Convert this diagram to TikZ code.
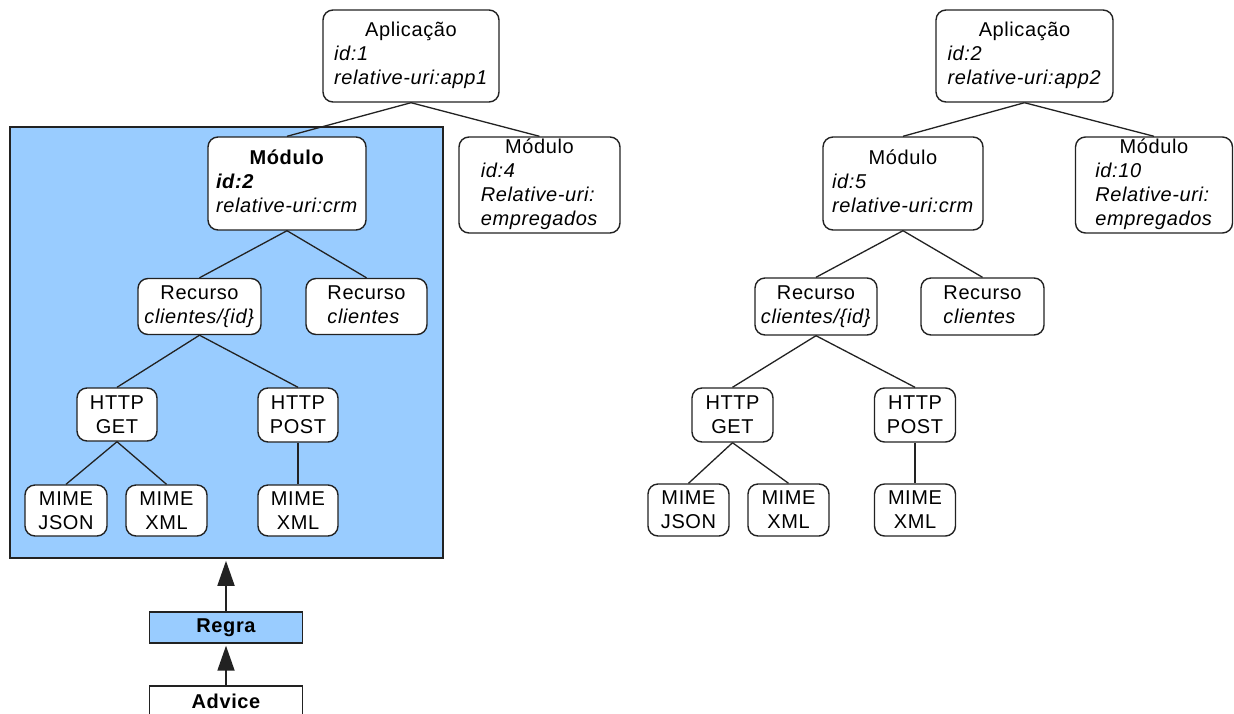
\documentclass[tikz,border=0pt]{standalone}
\usepackage{fontspec}
\setmainfont{Liberation Sans}[LetterSpace=3]
\usetikzlibrary{arrows.meta}
\definecolor{skyfill}{HTML}{99CCFF}
\definecolor{edgegray}{HTML}{222222}
\newcommand{\linesblock}[1]{\begin{tabular}{@{}l@{}}#1\end{tabular}}
\newcommand{\ctrline}[1]{\multicolumn{1}{@{}c@{}}{#1}}
\tikzset{
  tnode/.style={draw=edgegray, line width=1.4pt, rounded corners=10pt, fill=white,
    inner sep=0pt, font=\fontsize{20}{24}\selectfont, align=center},
  conn/.style={draw=edgegray, line width=1.3pt},
  upArrow/.style={draw=edgegray, line width=1.8pt, shorten >=2pt,
    -{Triangle[length=25pt,width=17pt]}},
  plainbox/.style={draw=edgegray, line width=1.4pt, inner sep=0pt,
    font=\fontsize{20}{24}\selectfont\bfseries}
}
\begin{document}
\begin{tikzpicture}[x=1pt,y=-1pt]
\useasboundingbox (0,0) rectangle (1234,713);
\clip (0,0) rectangle (1234,713);
\fill[white] (0,0) rectangle (1234,713);

% blue region
\node[draw=edgegray, line width=1.6pt, fill=skyfill, inner sep=0pt,
  minimum width=433pt, minimum height=431pt] (region) at (226.5,342.5) {};

% ---------- left tree ----------
\node[tnode, minimum width=176pt, minimum height=92pt] (app1) at (411,56)
  {\linesblock{\ctrline{Aplicação}\\ \textit{id:1}\\ \textit{relative-uri:app1}}};
\node[tnode, minimum width=158pt, minimum height=93pt] (m2) at (287,183.5)
  {\linesblock{\ctrline{\textbf{Módulo}}\\ \textbf{\textit{id:2}}\\ \textit{relative-uri:crm}}};
\node[tnode, minimum width=161pt, minimum height=96pt] (m4) at (539.5,185)
  {\linesblock{\ctrline{Módulo}\\ \textit{id:4}\\ \textit{Relative-uri:}\\ \textit{empregados}}};
\node[tnode, minimum width=123pt, minimum height=56pt] (r1) at (199.5,306.5)
  {\linesblock{\ctrline{Recurso}\\ \textit{clientes/\{id\}}}};
\node[tnode, minimum width=121pt, minimum height=56pt] (r2) at (366.5,306.5)
  {\linesblock{\ctrline{Recurso}\\ \textit{clientes}}};
\node[tnode, minimum width=80pt, minimum height=53pt] (g1) at (117,414.5) {HTTP\\GET};
\node[tnode, minimum width=80pt, minimum height=54pt] (p1) at (298,415) {HTTP\\POST};
\node[tnode, minimum width=82pt, minimum height=51pt] (j1) at (66,510.5) {MIME\\JSON};
\node[tnode, minimum width=81pt, minimum height=51pt] (x1) at (166.5,510.5) {MIME\\XML};
\node[tnode, minimum width=80pt, minimum height=51pt] (x2) at (298,510.5) {MIME\\XML};

\draw[conn] (app1.south) -- (m2.north);
\draw[conn] (app1.south) -- (m4.north);
\draw[conn] (m2.south) -- (r1.north);
\draw[conn] (m2.south) -- (r2.north);
\draw[conn] (r1.south) -- (g1.north);
\draw[conn] (r1.south) -- (p1.north);
\draw[conn] (g1.south) -- (j1.north);
\draw[conn] (g1.south) -- (x1.north);
\draw[conn] (p1.south) -- (x2.north);

% Regra / Advice
\node[plainbox, fill=skyfill, minimum width=153pt, minimum height=31pt] (regra) at (226,627.5) {Regra};
\node[plainbox, fill=white, minimum width=153pt, minimum height=30pt] (advice) at (226,701) {Advice};
\draw[upArrow] (regra.north) -- (regra.north |- region.south);
\draw[upArrow] (advice.north) -- (regra.south);

% ---------- right tree ----------
\node[tnode, minimum width=177pt, minimum height=92pt] (app2) at (1024.5,56)
  {\linesblock{\ctrline{Aplicação}\\ \textit{id:2}\\ \textit{relative-uri:app2}}};
\node[tnode, minimum width=160pt, minimum height=93pt] (m5) at (903,183.5)
  {\linesblock{\ctrline{Módulo}\\ \textit{id:5}\\ \textit{relative-uri:crm}}};
\node[tnode, minimum width=157pt, minimum height=96pt] (m10) at (1154,185)
  {\linesblock{\ctrline{Módulo}\\ \textit{id:10}\\ \textit{Relative-uri:}\\ \textit{empregados}}};
\node[tnode, minimum width=122pt, minimum height=57pt] (r3) at (816,306.5)
  {\linesblock{\ctrline{Recurso}\\ \textit{clientes/\{id\}}}};
\node[tnode, minimum width=123pt, minimum height=57pt] (r4) at (982.5,306.5)
  {\linesblock{\ctrline{Recurso}\\ \textit{clientes}}};
\node[tnode, minimum width=81pt, minimum height=54pt] (g2) at (732.5,415) {HTTP\\GET};
\node[tnode, minimum width=81pt, minimum height=54pt] (p2) at (915,415) {HTTP\\POST};
\node[tnode, minimum width=81pt, minimum height=52pt] (j2) at (688.5,510) {MIME\\JSON};
\node[tnode, minimum width=81pt, minimum height=52pt] (x3) at (788.5,510) {MIME\\XML};
\node[tnode, minimum width=81pt, minimum height=52pt] (x4) at (915,510) {MIME\\XML};

\draw[conn] (app2.south) -- (m5.north);
\draw[conn] (app2.south) -- (m10.north);
\draw[conn] (m5.south) -- (r3.north);
\draw[conn] (m5.south) -- (r4.north);
\draw[conn] (r3.south) -- (g2.north);
\draw[conn] (r3.south) -- (p2.north);
\draw[conn] (g2.south) -- (j2.north);
\draw[conn] (g2.south) -- (x3.north);
\draw[conn] (p2.south) -- (x4.north);
\end{tikzpicture}
\end{document}
